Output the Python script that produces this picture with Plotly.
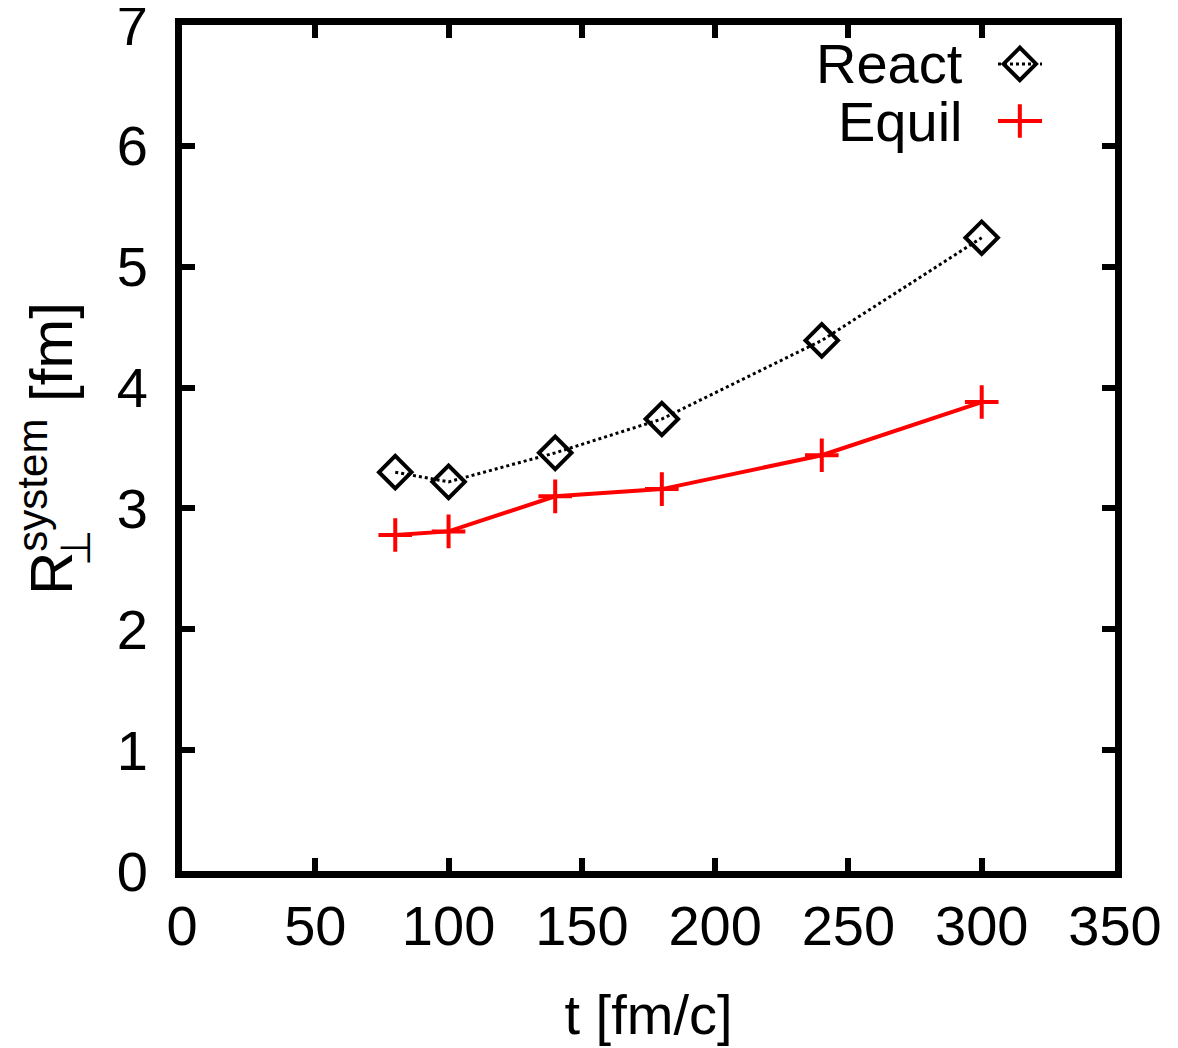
import plotly.graph_objects as go

t_vals = [80, 100, 140, 180, 240, 300]
react_vals = [3.30, 3.22, 3.46, 3.74, 4.39, 5.24]
equil_vals = [2.78, 2.81, 3.10, 3.16, 3.44, 3.88]

x_ticks = [0, 50, 100, 150, 200, 250, 300, 350]
y_ticks = [0, 1, 2, 3, 4, 5, 6, 7]

series_names = ["React", "Equil"]

FONT = "Liberation Sans, Arial, Helvetica, sans-serif"
FS = 56
TFS = 60

fig = go.Figure()

fig.add_trace(go.Scatter(
    x=t_vals, y=react_vals, mode="lines+markers", name=series_names[0],
    line=dict(color="black", width=3, dash="dot"),
    marker=dict(symbol="diamond-open", size=25, color="black",
                line=dict(color="black", width=4)),
    showlegend=False,
))
fig.add_trace(go.Scatter(
    x=t_vals, y=equil_vals, mode="lines+markers", name=series_names[1],
    line=dict(color="#ff0000", width=4),
    marker=dict(symbol="cross-thin", size=24, color="#ff0000",
                line=dict(color="#ff0000", width=4)),
    showlegend=False,
))

# legend samples on a hidden overlay axis (0..1 range)
leg_x = [0.8746, 0.898, 0.9218]
leg_y = [0.954, 0.8865]
fig.add_trace(go.Scatter(
    x=leg_x, y=[leg_y[0]] * 3, mode="lines", xaxis="x2", yaxis="y2",
    line=dict(color="black", width=3, dash="dot"), showlegend=False, hoverinfo="skip"))
fig.add_trace(go.Scatter(
    x=[leg_x[1]], y=[leg_y[0]], mode="markers", xaxis="x2", yaxis="y2",
    marker=dict(symbol="diamond-open", size=25, color="black",
                line=dict(color="black", width=4)), showlegend=False, hoverinfo="skip"))
fig.add_trace(go.Scatter(
    x=leg_x, y=[leg_y[1]] * 3, mode="lines", xaxis="x2", yaxis="y2",
    line=dict(color="#ff0000", width=4), showlegend=False, hoverinfo="skip"))
fig.add_trace(go.Scatter(
    x=[leg_x[1]], y=[leg_y[1]], mode="markers", xaxis="x2", yaxis="y2",
    marker=dict(symbol="cross-thin", size=24, color="#ff0000",
                line=dict(color="#ff0000", width=4)), showlegend=False, hoverinfo="skip"))

for name, yy in zip(series_names, leg_y):
    fig.add_annotation(text=name, xref="x2", yref="y2", x=0.839, y=yy,
                       xanchor="right", yanchor="middle", showarrow=False,
                       font=dict(family=FONT, size=FS, color="black"))

# y-axis title built from annotations (stacked sub/superscript)
fig.add_annotation(text="R<sup>system</sup> [fm]", xref="paper", yref="paper",
                   x=-0.1447, y=0.5, xanchor="center", yanchor="middle",
                   textangle=-90, showarrow=False,
                   font=dict(family=FONT, size=TFS, color="black"))
fig.add_annotation(text="⊥", xref="paper", yref="paper",
                   x=-0.1146, y=0.3817, xanchor="center", yanchor="middle",
                   textangle=-90, showarrow=False,
                   font=dict(family=FONT, size=42, color="black"))

axis_common = dict(
    showline=True, linewidth=7, linecolor="black", mirror="ticks",
    ticks="inside", ticklen=13, tickwidth=6, tickcolor="black",
    showgrid=False, zeroline=False, ticklabeloverflow="allow", automargin=False,
    tickfont=dict(family=FONT, size=FS, color="black"),
)

fig.update_layout(
    width=1170, height=1040,
    margin=dict(l=174, r=63, t=17, b=177),
    paper_bgcolor="white", plot_bgcolor="white",
    xaxis=dict(range=[0, 350], tickvals=x_ticks, ticktext=[str(v) for v in x_ticks],
               title=dict(text="t [fm/c]", font=dict(family=FONT, size=FS, color="black"), standoff=41),
               **axis_common),
    yaxis=dict(range=[0, 7], tickvals=y_ticks, ticktext=[str(v) for v in y_ticks],
               ticklabelstandoff=16, **axis_common),
    xaxis2=dict(range=[0, 1], overlaying="x", visible=False, fixedrange=True),
    yaxis2=dict(range=[0, 1], overlaying="y", visible=False, fixedrange=True),
    showlegend=False,
)

fig.write_html("out.html")
